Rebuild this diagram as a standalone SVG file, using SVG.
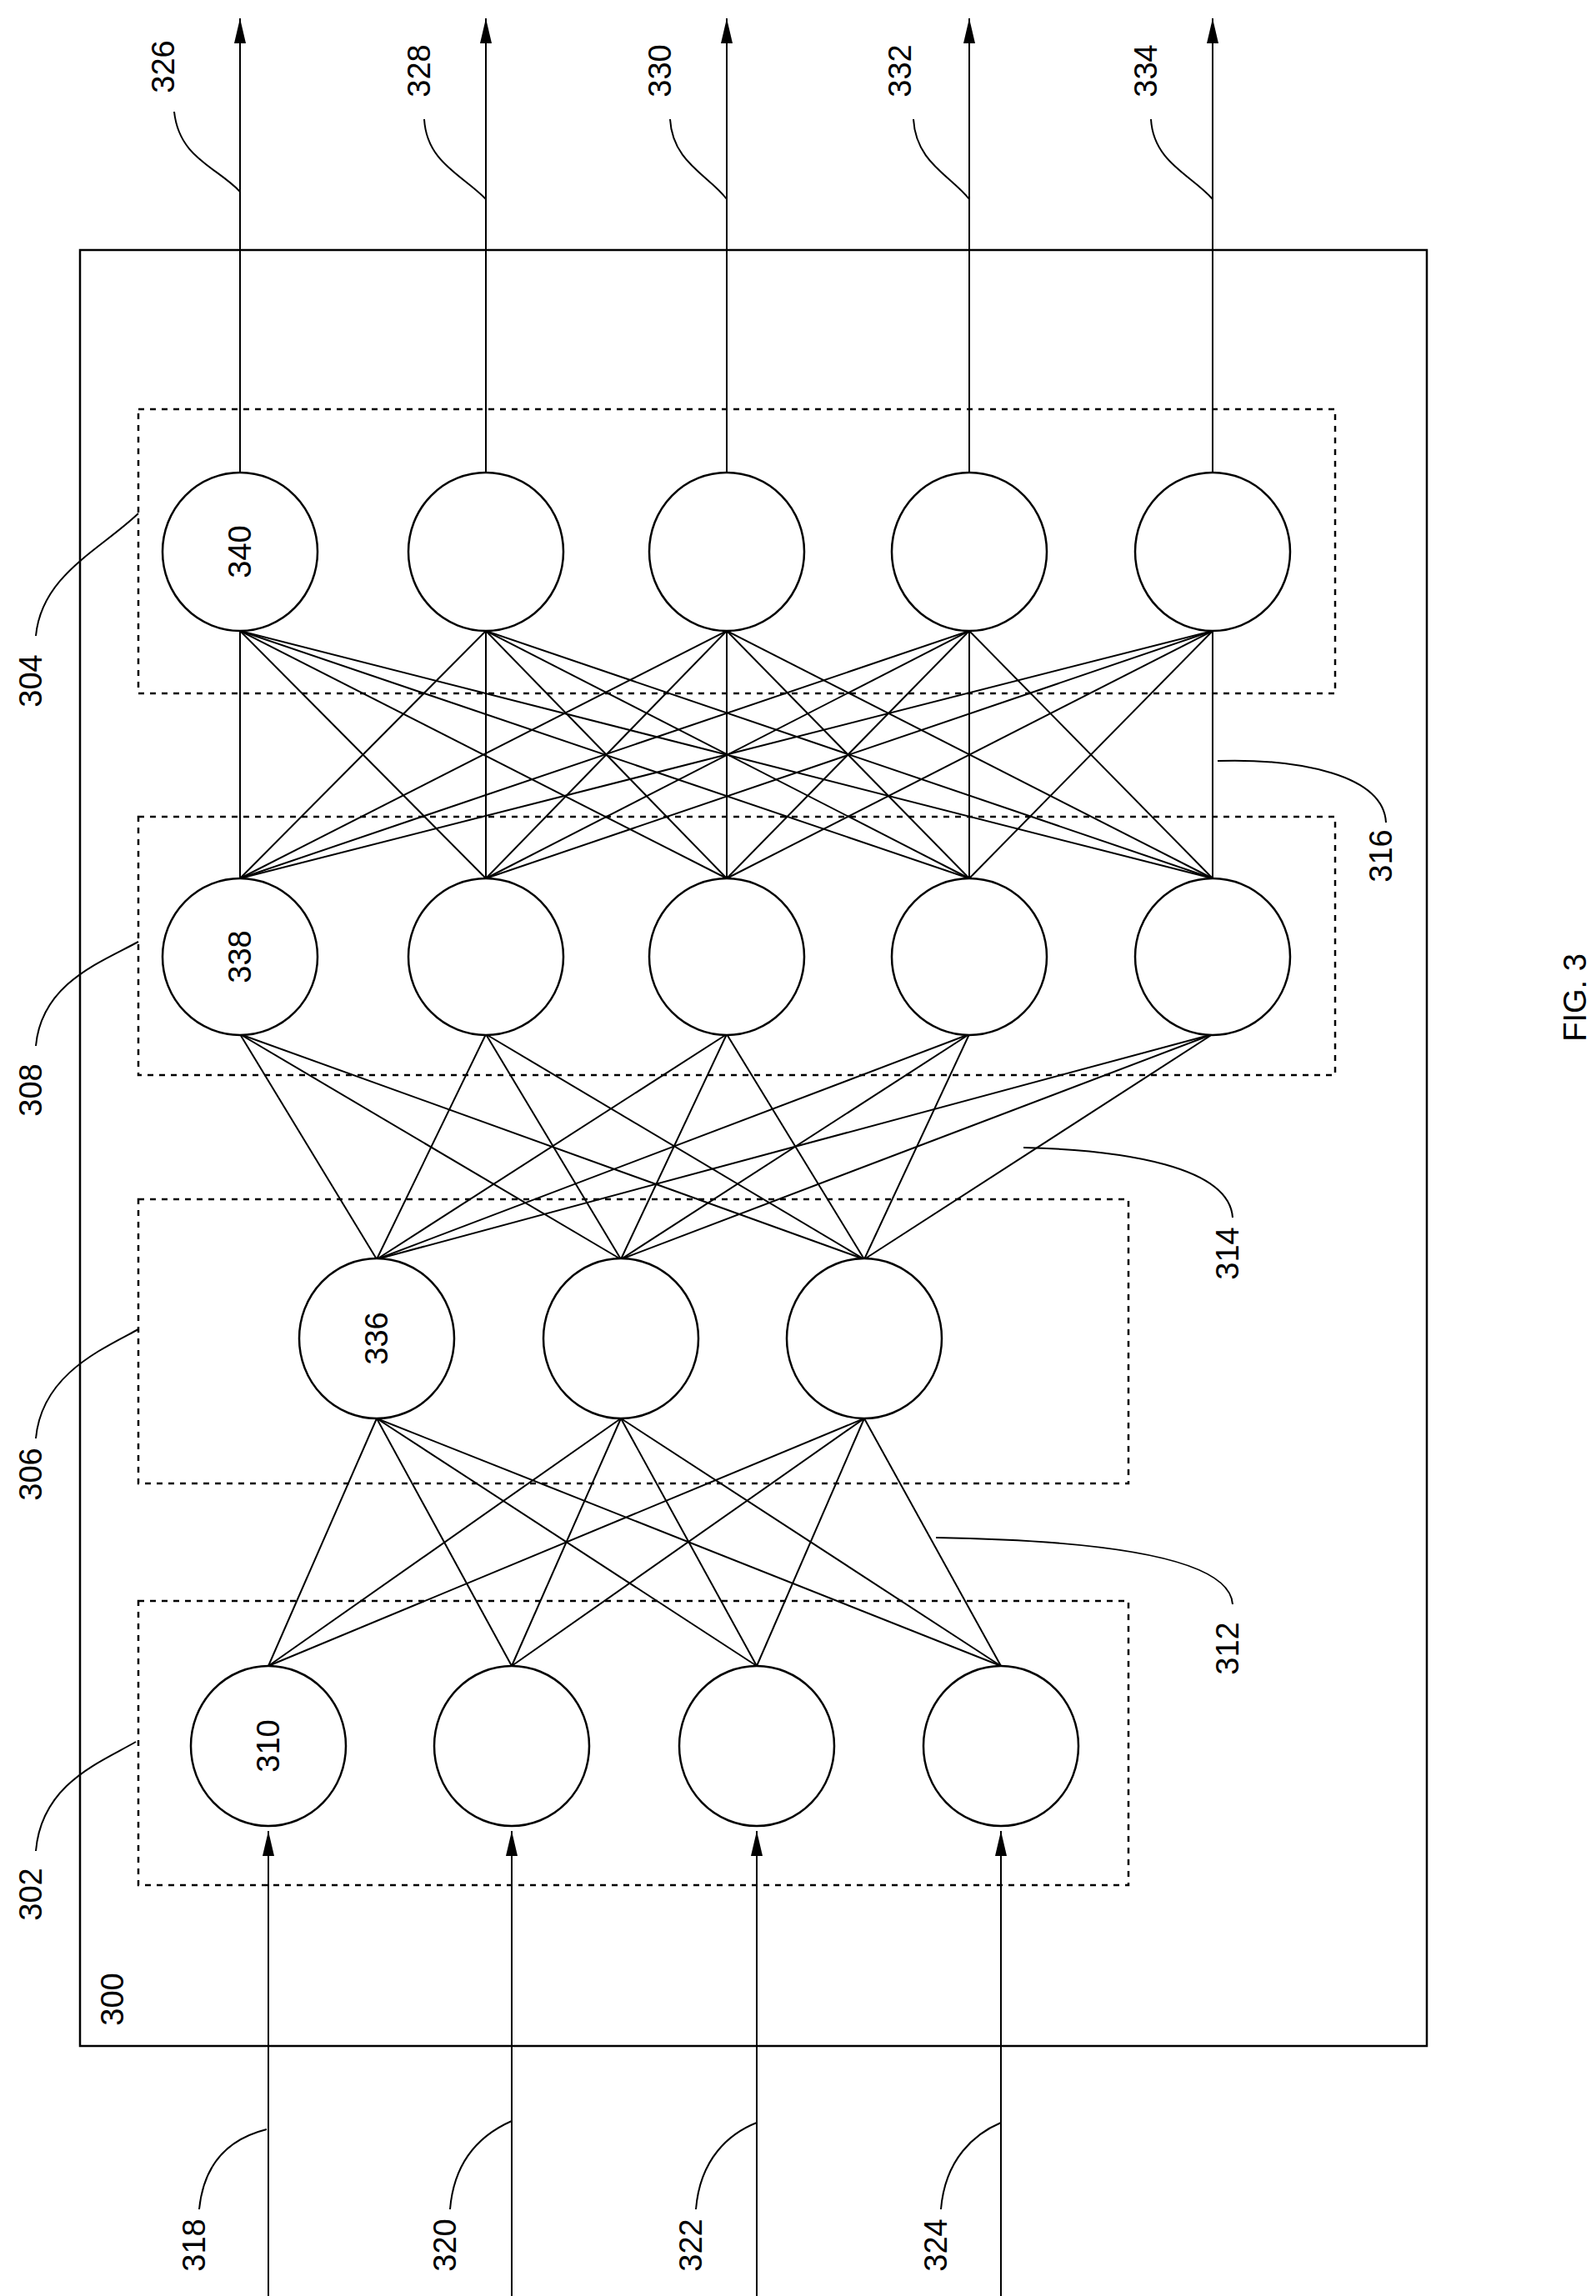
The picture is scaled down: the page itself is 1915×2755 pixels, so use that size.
<svg xmlns="http://www.w3.org/2000/svg" width="1915" height="2755" viewBox="0 0 1915 2755">
<style>
.n{fill:#fff;stroke:#000;stroke-width:2.5}
.d{fill:none;stroke:#000;stroke-width:2.5;stroke-dasharray:7,7}
.c line{stroke:#000;stroke-width:2}
.l{fill:none;stroke:#000;stroke-width:2}
text{font-family:"Liberation Sans",Arial,sans-serif;font-size:38px;fill:#000;text-anchor:middle;dominant-baseline:central}
</style>
<defs>
<marker id="ar" markerWidth="30" markerHeight="14" refX="30" refY="7" orient="auto" markerUnits="userSpaceOnUse" viewBox="0 0 30 14"><path d="M0,0 L30,7 L0,14 Z" fill="#000"/></marker>
</defs>
<rect id="box300" x="96" y="300" width="1616" height="2155" fill="none" stroke="#000" stroke-width="2.5"/>
<text transform="translate(135,2399) rotate(-90)">300</text>
<g id="layer302"><rect class="d" x="166" y="1921" width="1188" height="341"/></g>
<g id="layer306"><rect class="d" x="166" y="1439" width="1188" height="341"/></g>
<g id="layer308"><rect class="d" x="166" y="980" width="1436" height="310"/></g>
<g id="layer304"><rect class="d" x="166" y="491" width="1436" height="341"/></g>
<g class="c" id="connectors">
<line x1="322" y1="1999" x2="452" y2="1702"/><line x1="322" y1="1999" x2="745" y2="1702"/><line x1="322" y1="1999" x2="1037" y2="1702"/>
<line x1="614" y1="1999" x2="452" y2="1702"/><line x1="614" y1="1999" x2="745" y2="1702"/><line x1="614" y1="1999" x2="1037" y2="1702"/>
<line x1="908" y1="1999" x2="452" y2="1702"/><line x1="908" y1="1999" x2="745" y2="1702"/><line x1="908" y1="1999" x2="1037" y2="1702"/>
<line x1="1201" y1="1999" x2="452" y2="1702"/><line x1="1201" y1="1999" x2="745" y2="1702"/><line x1="1201" y1="1999" x2="1037" y2="1702"/>
<line x1="452" y1="1511" x2="288" y2="1241"/><line x1="452" y1="1511" x2="583" y2="1241"/><line x1="452" y1="1511" x2="872" y2="1241"/><line x1="452" y1="1511" x2="1163" y2="1241"/><line x1="452" y1="1511" x2="1455" y2="1241"/>
<line x1="745" y1="1511" x2="288" y2="1241"/><line x1="745" y1="1511" x2="583" y2="1241"/><line x1="745" y1="1511" x2="872" y2="1241"/><line x1="745" y1="1511" x2="1163" y2="1241"/><line x1="745" y1="1511" x2="1455" y2="1241"/>
<line x1="1037" y1="1511" x2="288" y2="1241"/><line x1="1037" y1="1511" x2="583" y2="1241"/><line x1="1037" y1="1511" x2="872" y2="1241"/><line x1="1037" y1="1511" x2="1163" y2="1241"/><line x1="1037" y1="1511" x2="1455" y2="1241"/>
<line x1="288" y1="1054" x2="288" y2="757"/><line x1="288" y1="1054" x2="583" y2="757"/><line x1="288" y1="1054" x2="872" y2="757"/><line x1="288" y1="1054" x2="1163" y2="757"/><line x1="288" y1="1054" x2="1455" y2="757"/>
<line x1="583" y1="1054" x2="288" y2="757"/><line x1="583" y1="1054" x2="583" y2="757"/><line x1="583" y1="1054" x2="872" y2="757"/><line x1="583" y1="1054" x2="1163" y2="757"/><line x1="583" y1="1054" x2="1455" y2="757"/>
<line x1="872" y1="1054" x2="288" y2="757"/><line x1="872" y1="1054" x2="583" y2="757"/><line x1="872" y1="1054" x2="872" y2="757"/><line x1="872" y1="1054" x2="1163" y2="757"/><line x1="872" y1="1054" x2="1455" y2="757"/>
<line x1="1163" y1="1054" x2="288" y2="757"/><line x1="1163" y1="1054" x2="583" y2="757"/><line x1="1163" y1="1054" x2="872" y2="757"/><line x1="1163" y1="1054" x2="1163" y2="757"/><line x1="1163" y1="1054" x2="1455" y2="757"/>
<line x1="1455" y1="1054" x2="288" y2="757"/><line x1="1455" y1="1054" x2="583" y2="757"/><line x1="1455" y1="1054" x2="872" y2="757"/><line x1="1455" y1="1054" x2="1163" y2="757"/><line x1="1455" y1="1054" x2="1455" y2="757"/>
<line x1="322" y1="2755" x2="322" y2="2197" marker-end="url(#ar)"/>
<line x1="614" y1="2755" x2="614" y2="2197" marker-end="url(#ar)"/>
<line x1="908" y1="2755" x2="908" y2="2197" marker-end="url(#ar)"/>
<line x1="1201" y1="2755" x2="1201" y2="2197" marker-end="url(#ar)"/>
<line x1="288" y1="567" x2="288" y2="22" marker-end="url(#ar)"/>
<line x1="583" y1="567" x2="583" y2="22" marker-end="url(#ar)"/>
<line x1="872" y1="567" x2="872" y2="22" marker-end="url(#ar)"/>
<line x1="1163" y1="567" x2="1163" y2="22" marker-end="url(#ar)"/>
<line x1="1455" y1="567" x2="1455" y2="22" marker-end="url(#ar)"/>
</g>
<g id="n310"><ellipse class="n" cx="322" cy="2095" rx="93" ry="96"/><text transform="translate(322,2095) rotate(-90)">310</text></g>
<g id="n311"><ellipse class="n" cx="614" cy="2095" rx="93" ry="96"/></g>
<g id="n312"><ellipse class="n" cx="908" cy="2095" rx="93" ry="96"/></g>
<g id="n313"><ellipse class="n" cx="1201" cy="2095" rx="93" ry="96"/></g>
<g id="n336"><ellipse class="n" cx="452" cy="1606" rx="93" ry="96"/><text transform="translate(452,1606) rotate(-90)">336</text></g>
<g id="n337"><ellipse class="n" cx="745" cy="1606" rx="93" ry="96"/></g>
<g id="n339"><ellipse class="n" cx="1037" cy="1606" rx="93" ry="96"/></g>
<g id="n338"><ellipse class="n" cx="288" cy="1148" rx="93" ry="94"/><text transform="translate(288,1148) rotate(-90)">338</text></g>
<g id="n338b"><ellipse class="n" cx="583" cy="1148" rx="93" ry="94"/></g>
<g id="n338c"><ellipse class="n" cx="872" cy="1148" rx="93" ry="94"/></g>
<g id="n338d"><ellipse class="n" cx="1163" cy="1148" rx="93" ry="94"/></g>
<g id="n338e"><ellipse class="n" cx="1455" cy="1148" rx="93" ry="94"/></g>
<g id="n340"><ellipse class="n" cx="288" cy="662" rx="93" ry="95"/><text transform="translate(288,662) rotate(-90)">340</text></g>
<g id="n340b"><ellipse class="n" cx="583" cy="662" rx="93" ry="95"/></g>
<g id="n340c"><ellipse class="n" cx="872" cy="662" rx="93" ry="95"/></g>
<g id="n340d"><ellipse class="n" cx="1163" cy="662" rx="93" ry="95"/></g>
<g id="n340e"><ellipse class="n" cx="1455" cy="662" rx="93" ry="95"/></g>
<g id="labels">
<path class="l" d="M209,134 C215,190 260,200 288,230"/><text transform="translate(196,80) rotate(-90)">326</text>
<path class="l" d="M509,143 C512,195 555,210 583,239"/><text transform="translate(503,85) rotate(-90)">328</text>
<path class="l" d="M804,143 C807,195 850,210 872,239"/><text transform="translate(792,85) rotate(-90)">330</text>
<path class="l" d="M1096,143 C1099,195 1140,210 1163,239"/><text transform="translate(1080,85) rotate(-90)">332</text>
<path class="l" d="M1381,143 C1384,195 1430,210 1455,239"/><text transform="translate(1375,85) rotate(-90)">334</text>
<path class="l" d="M43,763 C50,690 120,660 166,616"/><text transform="translate(37,817) rotate(-90)">304</text>
<path class="l" d="M43,1255 C50,1180 120,1155 166,1130"/><text transform="translate(37,1308) rotate(-90)">308</text>
<path class="l" d="M43,1726 C50,1650 120,1620 166,1595"/><text transform="translate(37,1769) rotate(-90)">306</text>
<path class="l" d="M43,2221 C50,2140 120,2115 163,2090"/><text transform="translate(37,2273) rotate(-90)">302</text>
<path class="l" d="M1663,987 C1660,930 1560,910 1461,913"/><text transform="translate(1657,1027) rotate(-90)">316</text>
<path class="l" d="M1479,1461 C1475,1400 1350,1380 1228,1377"/><text transform="translate(1473,1504) rotate(-90)">314</text>
<path class="l" d="M1479,1925 C1475,1865 1300,1848 1123,1845"/><text transform="translate(1473,1978) rotate(-90)">312</text>
<path class="l" d="M239,2651 C245,2590 280,2565 320,2555"/><text transform="translate(233,2694) rotate(-90)">318</text>
<path class="l" d="M540,2651 C545,2590 580,2560 614,2545"/><text transform="translate(534,2694) rotate(-90)">320</text>
<path class="l" d="M835,2651 C840,2590 875,2560 908,2547"/><text transform="translate(829,2694) rotate(-90)">322</text>
<path class="l" d="M1129,2651 C1134,2590 1170,2560 1201,2547"/><text transform="translate(1123,2694) rotate(-90)">324</text>
<text transform="translate(1890,1197) rotate(-90)" font-size="40">FIG. 3</text>
</g>
</svg>
